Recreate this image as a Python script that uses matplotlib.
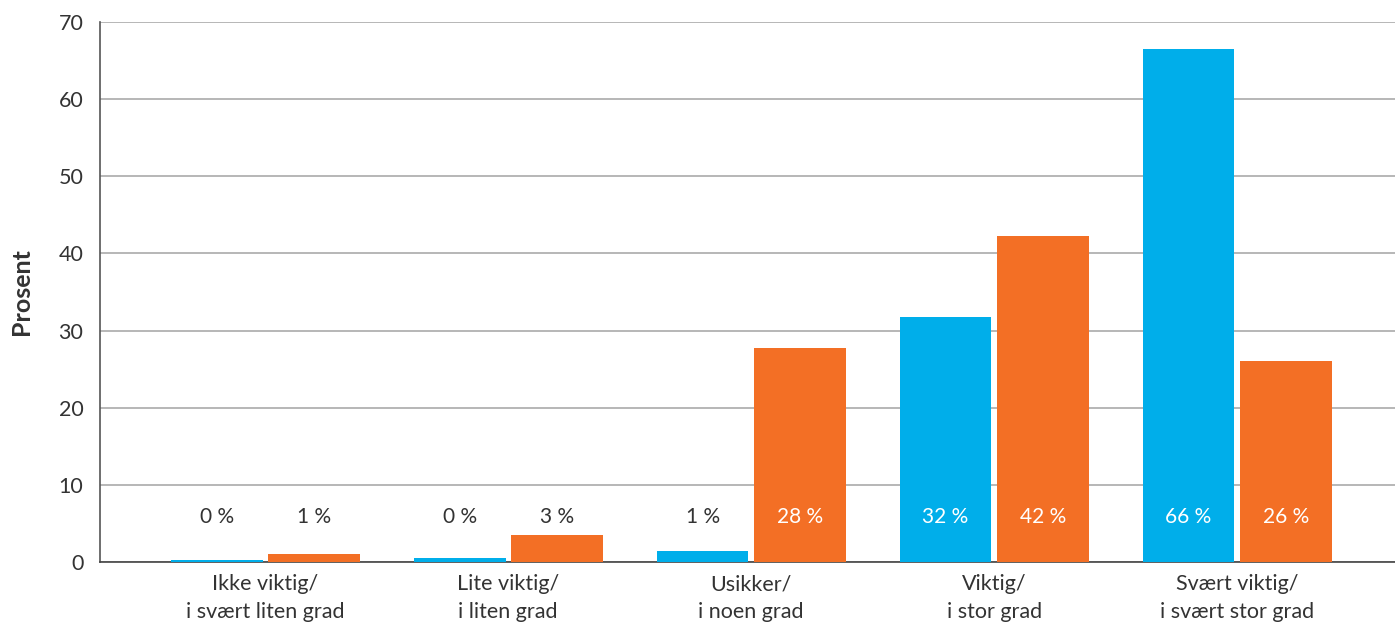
import matplotlib.pyplot as plt
import numpy as np

plt.rcParams['font.family'] = ['Lato', 'DejaVu Sans']

kategorier = ["Ikke viktig/\ni svært liten grad", "Lite viktig/\ni liten grad",
              "Usikker/\ni noen grad", "Viktig/\ni stor grad",
              "Svært viktig/\ni svært stor grad"]
blaa = [0.3, 0.5, 1.4, 31.8, 66.5]
oransje = [1.0, 3.5, 27.7, 42.2, 26.1]
blaa_tekst = ["0 %", "0 %", "1 %", "32 %", "66 %"]
oransje_tekst = ["1 %", "3 %", "28 %", "42 %", "26 %"]

BLA = "#00AEEA"
ORANSJE = "#F36F25"
TEKST = "#333333"

fig = plt.figure(figsize=(13.95, 6.24), dpi=100)
ax = fig.add_axes([0.0717, 0.0994, 0.9283, 0.8653])

x = np.arange(len(kategorier))
b = 0.378
ax.bar(x - 0.2, blaa, b, color=BLA, zorder=3)
ax.bar(x + 0.2, oransje, b, color=ORANSJE, zorder=3)

for i in range(len(x)):
    c1 = "white" if blaa[i] > 8 else TEKST
    c2 = "white" if oransje[i] > 8 else TEKST
    ax.text(x[i] - 0.2, 5.8, blaa_tekst[i], ha="center", va="center",
            fontsize=15, color=c1, zorder=4)
    ax.text(x[i] + 0.2, 5.8, oransje_tekst[i], ha="center", va="center",
            fontsize=15, color=c2, zorder=4)

ax.set_xlim(-0.68, 4.65)
ax.set_ylim(0, 70)
ax.set_yticks(range(0, 71, 10))
ax.set_xticks(x)
ax.set_xticklabels(kategorier, fontsize=15.5, color=TEKST, linespacing=1.5)
ax.tick_params(axis="y", labelsize=15.5, colors=TEKST, length=0, pad=12)
ax.tick_params(axis="x", length=0, pad=9)
ax.grid(axis="y", color="#AAAAAA", linewidth=1.2, zorder=0)
ax.set_ylabel("Prosent", fontsize=18, fontweight="bold", color=TEKST, labelpad=18)

for s in ["top", "right"]:
    ax.spines[s].set_visible(False)
ax.spines["left"].set_color("#555555")
ax.spines["bottom"].set_color("#444444")
ax.spines["left"].set_linewidth(1.2)
ax.spines["bottom"].set_linewidth(1.2)

fig.savefig("out.png", dpi=100)
